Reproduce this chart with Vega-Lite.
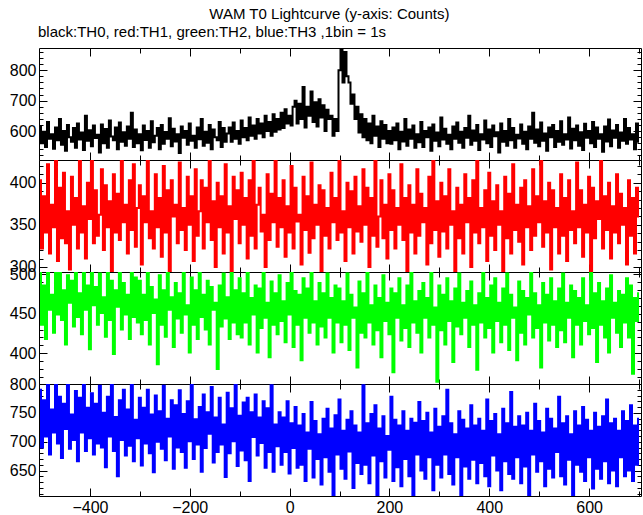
{
"$schema": "https://vega.github.io/schema/vega-lite/v6.json",
"background": "white",
"padding": {"left": 8, "right": 2, "top": 7, "bottom": 2},
"title": {"text": "WAM T0 Lightcurve (y-axis: Counts)", "anchor": "middle", "fontSize": 15, "fontWeight": "normal", "font": "Liberation Sans", "color": "#000", "dx": 4, "offset": 2},
"spacing": 0,
"bounds": "flush",
"datasets": {"lc": [
{"t":-500,"a":615,"b":403,"c":505,"d":790},{"t":-496,"a":560,"b":322,"c":436,"d":690},{"t":-492,"a":598,"b":384,"c":486,"d":772},{"t":-488,"a":548,"b":341,"c":418,"d":709},{"t":-484,"a":630,"b":422,"c":518,"d":809},{"t":-480,"a":575,"b":316,"c":455,"d":678},{"t":-476,"a":590,"b":374,"c":474,"d":756},{"t":-472,"a":542,"b":347,"c":426,"d":716},{"t":-468,"a":612,"b":434,"c":509,"d":822},{"t":-464,"a":570,"b":307,"c":449,"d":697},
{"t":-460,"a":640,"b":394,"c":524,"d":778},{"t":-456,"a":555,"b":334,"c":442,"d":672},{"t":-452,"a":600,"b":412,"c":480,"d":766},{"t":-448,"a":535,"b":328,"c":411,"d":722},{"t":-444,"a":620,"b":366,"c":499,"d":803},{"t":-440,"a":580,"b":297,"c":464,"d":688},{"t":-436,"a":565,"b":407,"c":492,"d":747},{"t":-432,"a":610,"b":350,"c":434,"d":703},{"t":-428,"a":545,"b":382,"c":511,"d":788},{"t":-424,"a":625,"b":322,"c":446,"d":666},
{"t":-420,"a":572,"b":428,"c":476,"d":776},{"t":-416,"a":595,"b":341,"c":424,"d":716},{"t":-412,"a":538,"b":372,"c":505,"d":816},{"t":-408,"a":650,"b":310,"c":455,"d":684},{"t":-404,"a":568,"b":400,"c":486,"d":759},{"t":-400,"a":603,"b":357,"c":405,"d":706},{"t":-396,"a":550,"b":447,"c":518,"d":784},{"t":-392,"a":618,"b":328,"c":461,"d":678},{"t":-388,"a":577,"b":391,"c":484,"d":766},{"t":-384,"a":588,"b":337,"c":436,"d":697},
{"t":-380,"a":530,"b":362,"c":501,"d":797},{"t":-376,"a":622,"b":416,"c":451,"d":690},{"t":-372,"a":560,"b":320,"c":471,"d":750},{"t":-368,"a":607,"b":397,"c":421,"d":656},{"t":-364,"a":545,"b":347,"c":511,"d":778},{"t":-360,"a":635,"b":378,"c":442,"d":709},{"t":-356,"a":582,"b":291,"c":492,"d":809},{"t":-352,"a":570,"b":410,"c":399,"d":684},{"t":-348,"a":612,"b":341,"c":480,"d":743},{"t":-344,"a":540,"b":387,"c":459,"d":640},
{"t":-340,"a":628,"b":332,"c":509,"d":772},{"t":-336,"a":565,"b":432,"c":430,"d":703},{"t":-332,"a":596,"b":353,"c":489,"d":790},{"t":-328,"a":552,"b":374,"c":449,"d":676},{"t":-324,"a":615,"b":316,"c":474,"d":756},{"t":-320,"a":575,"b":403,"c":418,"d":693},{"t":-316,"a":660,"b":344,"c":521,"d":803},{"t":-312,"a":548,"b":422,"c":446,"d":666},{"t":-308,"a":605,"b":324,"c":496,"d":738},{"t":-304,"a":560,"b":370,"c":439,"d":706},
{"t":-300,"a":590,"b":397,"c":492,"d":776},{"t":-296,"a":537,"b":303,"c":424,"d":659},{"t":-292,"a":618,"b":384,"c":474,"d":759},{"t":-288,"a":571,"b":353,"c":442,"d":697},{"t":-284,"a":600,"b":441,"c":505,"d":790},{"t":-280,"a":545,"b":334,"c":411,"d":680},{"t":-276,"a":632,"b":366,"c":484,"d":747},{"t":-272,"a":563,"b":322,"c":451,"d":647},{"t":-268,"a":585,"b":410,"c":468,"d":780},{"t":-264,"a":610,"b":347,"c":386,"d":700},
{"t":-260,"a":540,"b":382,"c":499,"d":753},{"t":-256,"a":620,"b":312,"c":436,"d":688},{"t":-252,"a":558,"b":420,"c":480,"d":797},{"t":-248,"a":597,"b":341,"c":421,"d":668},{"t":-244,"a":575,"b":391,"c":511,"d":740},{"t":-240,"a":642,"b":284,"c":455,"d":709},{"t":-236,"a":550,"b":403,"c":471,"d":772},{"t":-232,"a":608,"b":360,"c":408,"d":653},{"t":-228,"a":566,"b":374,"c":489,"d":763},{"t":-224,"a":590,"b":328,"c":444,"d":690},
{"t":-220,"a":528,"b":424,"c":476,"d":789},{"t":-216,"a":615,"b":344,"c":426,"d":682},{"t":-212,"a":578,"b":370,"c":505,"d":748},{"t":-208,"a":600,"b":320,"c":449,"d":655},{"t":-204,"a":555,"b":407,"c":461,"d":770},{"t":-200,"a":625,"b":350,"c":401,"d":701},{"t":-196,"a":568,"b":384,"c":496,"d":808},{"t":-192,"a":585,"b":307,"c":436,"d":670},{"t":-188,"a":545,"b":416,"c":480,"d":739},{"t":-184,"a":612,"b":337,"c":418,"d":695},
{"t":-180,"a":573,"b":366,"c":509,"d":760},{"t":-176,"a":640,"b":403,"c":446,"d":648},{"t":-172,"a":552,"b":322,"c":474,"d":782},{"t":-168,"a":598,"b":394,"c":430,"d":689},{"t":-164,"a":562,"b":353,"c":492,"d":751},{"t":-160,"a":620,"b":460,"c":411,"d":714},{"t":-156,"a":540,"b":332,"c":484,"d":795},{"t":-152,"a":605,"b":378,"c":455,"d":664},{"t":-148,"a":580,"b":300,"c":464,"d":742},{"t":-144,"a":570,"b":400,"c":380,"d":682},
{"t":-140,"a":630,"b":347,"c":486,"d":776},{"t":-136,"a":548,"b":384,"c":434,"d":695},{"t":-132,"a":610,"b":316,"c":501,"d":730},{"t":-128,"a":565,"b":422,"c":444,"d":639},{"t":-124,"a":592,"b":341,"c":471,"d":785},{"t":-120,"a":612,"b":372,"c":418,"d":680},{"t":-116,"a":565,"b":294,"c":518,"d":758},{"t":-112,"a":628,"b":407,"c":439,"d":701},{"t":-108,"a":575,"b":357,"c":480,"d":813},{"t":-104,"a":600,"b":391,"c":424,"d":658},
{"t":-100,"a":558,"b":328,"c":495,"d":745},{"t":-96,"a":635,"b":412,"c":420,"d":685},{"t":-92,"a":580,"b":350,"c":476,"d":768},{"t":-88,"a":610,"b":382,"c":439,"d":668},{"t":-84,"a":570,"b":310,"c":504,"d":776},{"t":-80,"a":645,"b":403,"c":411,"d":632},{"t":-76,"a":585,"b":337,"c":470,"d":751},{"t":-72,"a":618,"b":432,"c":449,"d":708},{"t":-68,"a":575,"b":322,"c":486,"d":782},{"t":-64,"a":640,"b":374,"c":401,"d":676},
{"t":-60,"a":592,"b":394,"c":482,"d":742},{"t":-56,"a":625,"b":342,"c":432,"d":698},{"t":-52,"a":580,"b":362,"c":511,"d":770},{"t":-48,"a":650,"b":300,"c":445,"d":655},{"t":-44,"a":600,"b":410,"c":464,"d":758},{"t":-40,"a":630,"b":332,"c":395,"d":682},{"t":-36,"a":585,"b":387,"c":491,"d":798},{"t":-32,"a":655,"b":353,"c":436,"d":648},{"t":-28,"a":598,"b":441,"c":476,"d":730},{"t":-24,"a":640,"b":324,"c":424,"d":692},
{"t":-20,"a":605,"b":382,"c":499,"d":751},{"t":-16,"a":660,"b":347,"c":441,"d":660},{"t":-12,"a":610,"b":403,"c":466,"d":742},{"t":-8,"a":672,"b":312,"c":414,"d":682},{"t":-4,"a":625,"b":372,"c":489,"d":770},{"t":0,"a":650,"b":341,"c":449,"d":645},{"t":4,"a":618,"b":420,"c":507,"d":732},{"t":8,"a":680,"b":322,"c":408,"d":689},{"t":12,"a":700,"b":394,"c":479,"d":760},{"t":16,"a":625,"b":354,"c":436,"d":655},
{"t":20,"a":690,"b":362,"c":474,"d":728},{"t":24,"a":640,"b":303,"c":391,"d":660},{"t":28,"a":745,"b":407,"c":495,"d":748},{"t":32,"a":612,"b":344,"c":445,"d":632},{"t":36,"a":680,"b":384,"c":482,"d":716},{"t":40,"a":650,"b":317,"c":426,"d":688},{"t":44,"a":730,"b":424,"c":514,"d":769},{"t":48,"a":630,"b":334,"c":439,"d":638},{"t":52,"a":695,"b":374,"c":466,"d":736},{"t":56,"a":615,"b":350,"c":411,"d":670},
{"t":60,"a":705,"b":397,"c":489,"d":713},{"t":64,"a":645,"b":291,"c":434,"d":626},{"t":68,"a":685,"b":391,"c":476,"d":740},{"t":72,"a":600,"b":337,"c":420,"d":673},{"t":76,"a":670,"b":370,"c":501,"d":757},{"t":80,"a":640,"b":322,"c":445,"d":648},{"t":84,"a":650,"b":412,"c":470,"d":723},{"t":88,"a":585,"b":353,"c":401,"d":590},{"t":92,"a":640,"b":382,"c":486,"d":746},{"t":96,"a":600,"b":332,"c":439,"d":678},
{"t":100,"a":800,"b":434,"c":482,"d":773},{"t":104,"a":870,"b":341,"c":414,"d":653},{"t":108,"a":760,"b":366,"c":466,"d":719},{"t":112,"a":860,"b":307,"c":436,"d":636},{"t":116,"a":780,"b":400,"c":501,"d":738},{"t":120,"a":760,"b":347,"c":404,"d":683},{"t":124,"a":690,"b":390,"c":474,"d":753},{"t":128,"a":720,"b":316,"c":445,"d":620},{"t":132,"a":640,"b":407,"c":458,"d":728},{"t":136,"a":680,"b":342,"c":382,"d":663},
{"t":140,"a":595,"b":372,"c":491,"d":716},{"t":144,"a":655,"b":330,"c":426,"d":644},{"t":148,"a":580,"b":416,"c":476,"d":798},{"t":152,"a":640,"b":350,"c":420,"d":660},{"t":156,"a":570,"b":394,"c":520,"d":732},{"t":160,"a":625,"b":300,"c":439,"d":628},{"t":164,"a":560,"b":382,"c":461,"d":748},{"t":168,"a":650,"b":337,"c":411,"d":676},{"t":172,"a":585,"b":428,"c":486,"d":763},{"t":176,"a":615,"b":324,"c":429,"d":588},
{"t":180,"a":548,"b":360,"c":470,"d":723},{"t":184,"a":632,"b":403,"c":395,"d":666},{"t":188,"a":575,"b":334,"c":499,"d":744},{"t":192,"a":620,"b":374,"c":441,"d":638},{"t":196,"a":560,"b":310,"c":464,"d":710},{"t":200,"a":600,"b":410,"c":424,"d":686},{"t":204,"a":558,"b":344,"c":482,"d":778},{"t":208,"a":612,"b":391,"c":376,"d":632},{"t":212,"a":570,"b":322,"c":476,"d":738},{"t":216,"a":625,"b":370,"c":445,"d":656},
{"t":220,"a":540,"b":350,"c":495,"d":728},{"t":224,"a":598,"b":422,"c":416,"d":623},{"t":228,"a":566,"b":332,"c":461,"d":753},{"t":232,"a":640,"b":382,"c":432,"d":670},{"t":236,"a":552,"b":282,"c":486,"d":719},{"t":240,"a":605,"b":397,"c":408,"d":640},{"t":244,"a":575,"b":341,"c":507,"d":740},{"t":248,"a":618,"b":374,"c":439,"d":594},{"t":252,"a":545,"b":316,"c":466,"d":733},{"t":256,"a":590,"b":416,"c":426,"d":678},
{"t":260,"a":563,"b":337,"c":479,"d":769},{"t":264,"a":630,"b":387,"c":401,"d":650},{"t":268,"a":548,"b":353,"c":489,"d":736},{"t":272,"a":600,"b":370,"c":445,"d":636},{"t":276,"a":580,"b":303,"c":470,"d":750},{"t":280,"a":612,"b":407,"c":420,"d":673},{"t":284,"a":535,"b":328,"c":514,"d":716},{"t":288,"a":622,"b":447,"c":436,"d":616},{"t":292,"a":568,"b":344,"c":458,"d":757},{"t":296,"a":595,"b":378,"c":364,"d":660},
{"t":300,"a":550,"b":312,"c":486,"d":726},{"t":304,"a":645,"b":400,"c":429,"d":638},{"t":308,"a":572,"b":342,"c":474,"d":744},{"t":312,"a":608,"b":384,"c":411,"d":678},{"t":316,"a":558,"b":322,"c":495,"d":790},{"t":320,"a":588,"b":416,"c":441,"d":644},{"t":324,"a":540,"b":350,"c":466,"d":732},{"t":328,"a":615,"b":366,"c":389,"d":626},{"t":332,"a":575,"b":294,"c":482,"d":713},{"t":336,"a":628,"b":394,"c":434,"d":673},
{"t":340,"a":562,"b":334,"c":501,"d":753},{"t":344,"a":598,"b":374,"c":424,"d":590},{"t":348,"a":545,"b":316,"c":464,"d":738},{"t":352,"a":610,"b":410,"c":445,"d":657},{"t":356,"a":578,"b":353,"c":479,"d":723},{"t":360,"a":650,"b":382,"c":408,"d":636},{"t":364,"a":555,"b":300,"c":491,"d":763},{"t":368,"a":602,"b":403,"c":436,"d":669},{"t":372,"a":568,"b":341,"c":461,"d":728},{"t":376,"a":620,"b":432,"c":379,"d":628},
{"t":380,"a":538,"b":328,"c":476,"d":740},{"t":384,"a":590,"b":370,"c":439,"d":663},{"t":388,"a":572,"b":347,"c":507,"d":719},{"t":392,"a":635,"b":391,"c":420,"d":640},{"t":396,"a":560,"b":307,"c":470,"d":773},{"t":400,"a":605,"b":412,"c":432,"d":623},{"t":404,"a":548,"b":337,"c":486,"d":736},{"t":408,"a":618,"b":378,"c":401,"d":676},{"t":412,"a":583,"b":320,"c":495,"d":748},{"t":416,"a":596,"b":397,"c":441,"d":650},
{"t":420,"a":530,"b":350,"c":464,"d":713},{"t":424,"a":625,"b":366,"c":414,"d":616},{"t":428,"a":565,"b":284,"c":482,"d":757},{"t":432,"a":600,"b":407,"c":436,"d":666},{"t":436,"a":552,"b":334,"c":501,"d":732},{"t":440,"a":640,"b":387,"c":404,"d":644},{"t":444,"a":570,"b":316,"c":474,"d":786},{"t":448,"a":610,"b":422,"c":445,"d":636},{"t":452,"a":545,"b":344,"c":458,"d":726},{"t":456,"a":588,"b":374,"c":391,"d":673},
{"t":460,"a":576,"b":330,"c":491,"d":744},{"t":464,"a":622,"b":394,"c":426,"d":628},{"t":468,"a":558,"b":303,"c":479,"d":728},{"t":472,"a":598,"b":403,"c":411,"d":657},{"t":476,"a":540,"b":347,"c":470,"d":750},{"t":480,"a":615,"b":372,"c":449,"d":600},{"t":484,"a":575,"b":320,"c":511,"d":719},{"t":488,"a":660,"b":416,"c":420,"d":678},{"t":492,"a":562,"b":337,"c":476,"d":766},{"t":496,"a":605,"b":384,"c":432,"d":648},
{"t":500,"a":550,"b":353,"c":461,"d":736},{"t":504,"a":628,"b":434,"c":382,"d":666},{"t":508,"a":568,"b":324,"c":489,"d":716},{"t":512,"a":592,"b":378,"c":439,"d":623},{"t":516,"a":535,"b":341,"c":474,"d":757},{"t":520,"a":612,"b":400,"c":416,"d":653},{"t":524,"a":580,"b":297,"c":495,"d":740},{"t":528,"a":620,"b":391,"c":436,"d":638},{"t":532,"a":548,"b":347,"c":466,"d":723},{"t":536,"a":600,"b":370,"c":408,"d":682},
{"t":540,"a":565,"b":316,"c":482,"d":778},{"t":544,"a":632,"b":410,"c":429,"d":640},{"t":548,"a":555,"b":337,"c":501,"d":732},{"t":552,"a":590,"b":382,"c":414,"d":626},{"t":556,"a":572,"b":307,"c":464,"d":744},{"t":560,"a":645,"b":403,"c":445,"d":669},{"t":564,"a":543,"b":344,"c":486,"d":713},{"t":568,"a":608,"b":366,"c":395,"d":586},{"t":572,"a":570,"b":328,"c":479,"d":753},{"t":576,"a":618,"b":424,"c":436,"d":660},
{"t":580,"a":552,"b":347,"c":470,"d":728},{"t":584,"a":596,"b":391,"c":411,"d":648},{"t":588,"a":538,"b":312,"c":495,"d":760},{"t":592,"a":624,"b":374,"c":441,"d":632},{"t":596,"a":578,"b":341,"c":461,"d":738},{"t":600,"a":600,"b":407,"c":424,"d":673},{"t":604,"a":560,"b":291,"c":507,"d":719},{"t":608,"a":630,"b":394,"c":432,"d":619},{"t":612,"a":548,"b":334,"c":476,"d":750},{"t":616,"a":612,"b":378,"c":389,"d":653},
{"t":620,"a":575,"b":357,"c":489,"d":726},{"t":624,"a":590,"b":460,"c":436,"d":636},{"t":628,"a":532,"b":322,"c":466,"d":744},{"t":632,"a":615,"b":384,"c":420,"d":666},{"t":636,"a":566,"b":344,"c":482,"d":773},{"t":640,"a":638,"b":400,"c":401,"d":628},{"t":644,"a":550,"b":310,"c":499,"d":732},{"t":648,"a":602,"b":372,"c":445,"d":650},{"t":652,"a":578,"b":341,"c":464,"d":740},{"t":656,"a":620,"b":410,"c":426,"d":623},
{"t":660,"a":545,"b":328,"c":479,"d":719},{"t":664,"a":595,"b":387,"c":408,"d":673},{"t":668,"a":568,"b":350,"c":474,"d":753},{"t":672,"a":640,"b":370,"c":439,"d":640},{"t":676,"a":558,"b":303,"c":495,"d":736},{"t":680,"a":610,"b":403,"c":420,"d":650},{"t":684,"a":572,"b":337,"c":486,"d":763},{"t":688,"a":590,"b":382,"c":374,"d":632},{"t":692,"a":540,"b":316,"c":470,"d":728},{"t":696,"a":625,"b":394,"c":441,"d":660},
{"t":700,"a":565,"b":360,"c":476,"d":740}
]},
"data": {"name": "lc"},
"vconcat": [
{"width": 602, "height": 112,
 "title": {"text": "black:TH0, red:TH1, green:TH2, blue:TH3 ,1bin = 1s", "anchor": "start", "frame": "group", "fontSize": 15, "fontWeight": "normal", "font": "Liberation Sans", "color": "#000", "offset": 4, "dx": -1},
 "layer": [
  {"mark": {"type": "line", "color": "#000000", "strokeWidth": 2, "interpolate": "step", "clip": true},
   "encoding": {
    "x": {"field": "t", "type": "quantitative", "scale": {"domain": [-502, 704], "nice": false, "zero": false}, "axis": {"orient": "bottom", "values": [-400,-300,-200,-100,0,100,200,300,400,500,600,700], "labels": false, "title": null, "tickSize": {"condition": {"test": "datum.value % 200 === 0", "value": -8}, "value": -5}}},
    "y": {"field": "a", "type": "quantitative", "scale": {"domain": [505, 873], "nice": false, "zero": false}, "axis": {"orient": "left", "values": [520,540,560,580,600,620,640,660,680,700,720,740,760,780,800,820,840,860], "labelExpr": "datum.value % 100 === 0 ? datum.label : ''", "title": null, "tickSize": {"condition": {"test": "datum.value % 100 === 0", "value": -8}, "value": -4}}}
   }},
  {"mark": {"type": "line", "opacity": 0},
   "encoding": {
    "x": {"field": "t", "type": "quantitative", "axis": {"orient": "top", "values": [-400,-300,-200,-100,0,100,200,300,400,500,600,700], "labels": false, "title": null, "tickSize": {"condition": {"test": "datum.value % 200 === 0", "value": -8}, "value": -5}}},
    "y": {"field": "a", "type": "quantitative", "axis": {"orient": "right", "values": [520,540,560,580,600,620,640,660,680,700,720,740,760,780,800,820,840,860], "labels": false, "title": null, "tickSize": {"condition": {"test": "datum.value % 100 === 0", "value": -8}, "value": -4}}}
   }}
 ],
 "resolve": {"axis": {"x": "independent", "y": "independent"}}
},
{"width": 602, "height": 112,
 "layer": [
  {"mark": {"type": "line", "color": "#ff0000", "strokeWidth": 2, "interpolate": "step", "clip": true},
   "encoding": {
    "x": {"field": "t", "type": "quantitative", "scale": {"domain": [-502, 704], "nice": false, "zero": false}, "axis": {"orient": "bottom", "values": [-400,-300,-200,-100,0,100,200,300,400,500,600,700], "labels": false, "title": null, "tickSize": {"condition": {"test": "datum.value % 200 === 0", "value": -8}, "value": -5}}},
    "y": {"field": "b", "type": "quantitative", "scale": {"domain": [294, 427], "nice": false, "zero": false}, "axis": {"orient": "left", "values": [300,310,320,330,340,350,360,370,380,390,400,410,420], "labelExpr": "datum.value % 50 === 0 ? datum.label : ''", "title": null, "tickSize": {"condition": {"test": "datum.value % 50 === 0", "value": -8}, "value": -4}}}
   }},
  {"mark": {"type": "line", "opacity": 0},
   "encoding": {
    "x": {"field": "t", "type": "quantitative", "axis": {"orient": "top", "values": [-400,-300,-200,-100,0,100,200,300,400,500,600,700], "labels": false, "title": null, "tickSize": {"condition": {"test": "datum.value % 200 === 0", "value": -8}, "value": -5}}},
    "y": {"field": "b", "type": "quantitative", "axis": {"orient": "right", "values": [300,310,320,330,340,350,360,370,380,390,400,410,420], "labels": false, "title": null, "tickSize": {"condition": {"test": "datum.value % 50 === 0", "value": -8}, "value": -4}}}
   }}
 ],
 "resolve": {"axis": {"x": "independent", "y": "independent"}}
},
{"width": 602, "height": 112,
 "layer": [
  {"mark": {"type": "line", "color": "#00ff00", "strokeWidth": 2, "interpolate": "step", "clip": true},
   "encoding": {
    "x": {"field": "t", "type": "quantitative", "scale": {"domain": [-502, 704], "nice": false, "zero": false}, "axis": {"orient": "bottom", "values": [-400,-300,-200,-100,0,100,200,300,400,500,600,700], "labels": false, "title": null, "tickSize": {"condition": {"test": "datum.value % 200 === 0", "value": -8}, "value": -5}}},
    "y": {"field": "c", "type": "quantitative", "scale": {"domain": [361, 503], "nice": false, "zero": false}, "axis": {"orient": "left", "values": [370,380,390,400,410,420,430,440,450,460,470,480,490,500], "labelExpr": "datum.value % 50 === 0 ? datum.label : ''", "title": null, "tickSize": {"condition": {"test": "datum.value % 50 === 0", "value": -8}, "value": -4}}}
   }},
  {"mark": {"type": "line", "opacity": 0},
   "encoding": {
    "x": {"field": "t", "type": "quantitative", "axis": {"orient": "top", "values": [-400,-300,-200,-100,0,100,200,300,400,500,600,700], "labels": false, "title": null, "tickSize": {"condition": {"test": "datum.value % 200 === 0", "value": -8}, "value": -5}}},
    "y": {"field": "c", "type": "quantitative", "axis": {"orient": "right", "values": [370,380,390,400,410,420,430,440,450,460,470,480,490,500], "labels": false, "title": null, "tickSize": {"condition": {"test": "datum.value % 50 === 0", "value": -8}, "value": -4}}}
   }}
 ],
 "resolve": {"axis": {"x": "independent", "y": "independent"}}
},
{"width": 602, "height": 112,
 "layer": [
  {"mark": {"type": "line", "color": "#0000ff", "strokeWidth": 2, "interpolate": "step", "clip": true},
   "encoding": {
    "x": {"field": "t", "type": "quantitative", "scale": {"domain": [-502, 704], "nice": false, "zero": false}, "axis": {"orient": "bottom", "values": [-400,-300,-200,-100,0,100,200,300,400,500,600,700], "labelExpr": "datum.value % 200 === 0 ? datum.label : ''", "title": null, "tickSize": {"condition": {"test": "datum.value % 200 === 0", "value": -8}, "value": -5}}},
    "y": {"field": "d", "type": "quantitative", "scale": {"domain": [606, 800], "nice": false, "zero": false}, "axis": {"orient": "left", "values": [610,620,630,640,650,660,670,680,690,700,710,720,730,740,750,760,770,780,790,800], "labelExpr": "datum.value % 50 === 0 ? datum.label : ''", "title": null, "tickSize": {"condition": {"test": "datum.value % 50 === 0", "value": -8}, "value": -4}}}
   }},
  {"mark": {"type": "line", "opacity": 0},
   "encoding": {
    "x": {"field": "t", "type": "quantitative", "axis": {"orient": "top", "values": [-400,-300,-200,-100,0,100,200,300,400,500,600,700], "labels": false, "title": null, "tickSize": {"condition": {"test": "datum.value % 200 === 0", "value": -8}, "value": -5}}},
    "y": {"field": "d", "type": "quantitative", "axis": {"orient": "right", "values": [610,620,630,640,650,660,670,680,690,700,710,720,730,740,750,760,770,780,790,800], "labels": false, "title": null, "tickSize": {"condition": {"test": "datum.value % 50 === 0", "value": -8}, "value": -4}}}
   }}
 ],
 "resolve": {"axis": {"x": "independent", "y": "independent"}}
}
],
"config": {
 "view": {"stroke": "#000000", "strokeWidth": 1},
 "axis": {"grid": false, "domain": false, "tickColor": "#000000", "labelColor": "#000000", "labelFont": "Liberation Sans", "labelFontSize": 16, "labelOverlap": false, "labelFlush": false, "labelPadding": 11, "tickWidth": 1}
}
}
